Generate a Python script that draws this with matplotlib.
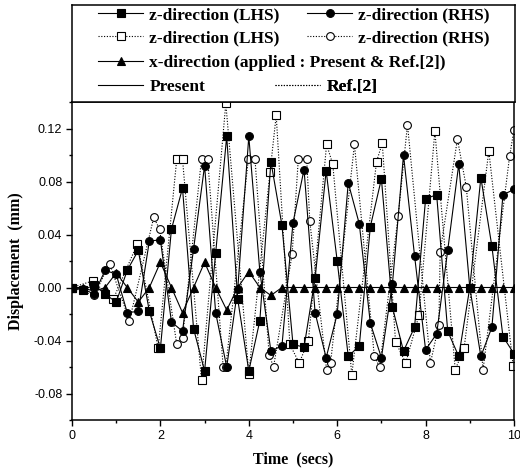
import matplotlib
matplotlib.use("Agg")
import matplotlib.pyplot as plt
import matplotlib.ticker as mticker
from matplotlib.lines import Line2D

# Present results (sampled every 0.25 s)
time_present = [0.0, 0.25, 0.5, 0.75, 1.0, 1.25, 1.5, 1.75, 2.0, 2.25,
                2.5, 2.75, 3.0, 3.25, 3.5, 3.75, 4.0, 4.25, 4.5, 4.75,
                5.0, 5.25, 5.5, 5.75, 6.0, 6.25, 6.5, 6.75, 7.0, 7.25,
                7.5, 7.75, 8.0, 8.25, 8.5, 8.75, 9.0, 9.25, 9.5, 9.75, 10.0]
z_lhs_present = [0.000, -0.002, 0.002, -0.005, -0.011, 0.013, 0.028, -0.018, -0.046, 0.044,
                 0.075, -0.031, -0.063, 0.026, 0.114, -0.009, -0.063, -0.025, 0.095, 0.047,
                 -0.043, -0.045, 0.007, 0.088, 0.020, -0.052, -0.044, 0.046, 0.082, -0.015,
                 -0.048, -0.030, 0.067, 0.070, -0.033, -0.052, 0.000, 0.083, 0.031, -0.037, -0.050]
z_rhs_present = [0.000, -0.001, -0.005, 0.013, 0.010, -0.019, -0.018, 0.035, 0.036, -0.026,
                 -0.033, 0.029, 0.092, -0.019, -0.060, -0.001, 0.114, 0.012, -0.048, -0.044,
                 0.049, 0.089, -0.019, -0.053, -0.020, 0.079, 0.048, -0.027, -0.053, 0.003,
                 0.100, 0.024, -0.047, -0.035, 0.028, 0.093, 0.000, -0.052, -0.030, 0.070, 0.074]
x_applied = [0.000, 0.000, -0.003, 0.000, 0.011, 0.000, -0.011, 0.000, 0.019, 0.000,
             -0.019, 0.000, 0.019, 0.000, -0.017, 0.000, 0.012, 0.000, -0.006, 0.000,
             0.000, 0.000, 0.000, 0.000, 0.000, 0.000, 0.000, 0.000, 0.000, 0.000,
             0.000, 0.000, 0.000, 0.000, 0.000, 0.000, 0.000, 0.000, 0.000, 0.000, 0.000]

# Ref.[2] results
time_ref_lhs = [0.0, 0.47, 0.93, 1.48, 1.95, 2.37, 2.5, 2.93, 3.48, 4.0,
                4.48, 4.62, 4.93, 5.14, 5.35, 5.76, 5.9, 6.33, 6.89, 7.02,
                7.32, 7.55, 7.85, 8.21, 8.67, 8.87, 9.43, 9.98]
z_lhs_ref = [0.000, 0.005, -0.009, 0.033, -0.046, 0.097, 0.097, -0.070, 0.139, -0.065,
             0.087, 0.130, -0.043, -0.057, -0.040, 0.108, 0.093, -0.066, 0.095, 0.109,
             -0.041, -0.057, -0.021, 0.118, -0.062, -0.046, 0.103, -0.059]
time_ref_rhs = [0.0, 0.5, 0.85, 1.3, 1.85, 1.98, 2.37, 2.5, 2.93, 3.07,
                3.42, 3.48, 3.99, 4.14, 4.46, 4.56, 4.98, 5.12, 5.31, 5.38,
                5.76, 5.85, 6.39, 6.84, 6.96, 7.38, 7.59, 8.11, 8.3, 8.33,
                8.72, 8.92, 9.3, 9.9, 10.0]
z_rhs_ref = [0.000, -0.006, 0.018, -0.025, 0.053, 0.044, -0.043, -0.038, 0.097, 0.097,
             -0.060, -0.060, 0.097, 0.097, -0.051, -0.060, 0.025, 0.097, 0.097, 0.050,
             -0.062, -0.057, 0.108, -0.052, -0.060, 0.054, 0.123, -0.057, -0.028, 0.027,
             0.112, 0.076, -0.062, 0.099, 0.119]

SERIF = ["Liberation Serif", "DejaVu Serif"]
SANS = ["Liberation Sans", "DejaVu Sans"]

solid = dict(color="black", lw=0.8, ls="-")
dotted = dict(color="black", lw=0.8, ls=(0, (1, 1.5)))
filled = dict(mfc="black", mec="black", mew=0.8)
hollow = dict(mfc="white", mec="black", mew=0.8)

fig = plt.figure(figsize=(5.2, 4.74), dpi=100)
ax = fig.add_axes([72 / 520, 1 - 420 / 474, 442 / 520, 318 / 474])

ax.plot(time_ref_lhs, z_lhs_ref, marker="s", ms=5.2, **hollow, **dotted, zorder=2)
ax.plot(time_ref_rhs, z_rhs_ref, marker="o", ms=5.6, **hollow, **dotted, zorder=2)
ax.plot(time_present, x_applied, marker="^", ms=6, **filled, **solid, zorder=3)
ax.plot(time_present, z_lhs_present, marker="s", ms=5.2, **filled, **solid, zorder=3)
ax.plot(time_present, z_rhs_present, marker="o", ms=5.6, **filled, **solid, zorder=3)

ax.set_xlim(0, 10)
ax.set_ylim(-0.10, 0.14)
ax.xaxis.set_major_locator(mticker.MultipleLocator(2))
ax.xaxis.set_minor_locator(mticker.MultipleLocator(1))
ax.yaxis.set_major_locator(mticker.FixedLocator([-0.08, -0.04, 0.0, 0.04, 0.08, 0.12]))
ax.yaxis.set_minor_locator(mticker.FixedLocator([-0.10, -0.06, -0.02, 0.02, 0.06, 0.10, 0.14]))
ax.xaxis.set_major_formatter(mticker.FuncFormatter(lambda v, _: f"{v:.0f}"))
ax.yaxis.set_major_formatter(mticker.FuncFormatter(lambda v, _: f"{v:.2f}".replace("-0.00", "0.00")))
ax.tick_params(which="both", direction="out", top=False, right=False, width=1.0,
               labelsize=9, pad=3)
ax.tick_params(which="major", length=4)
ax.tick_params(which="minor", length=2.5)
for lab in ax.get_xticklabels() + ax.get_yticklabels():
    lab.set_family(SANS)
for sp in ax.spines.values():
    sp.set_linewidth(1.1)

ax.set_xlabel("Time  (secs)", family=SERIF, fontweight="bold", fontsize=11.5, labelpad=7)
ax.set_ylabel("Displacement  (mm)", family=SERIF, fontweight="bold", fontsize=11.5, labelpad=7)

# legend box above the plot
lax = fig.add_axes([72 / 520, 1 - 102 / 474, 443 / 520, 97 / 474])
lax.set_xticks([])
lax.set_yticks([])
for sp in lax.spines.values():
    sp.set_linewidth(1.1)

h_lhs = Line2D([], [], marker="s", ms=5.2, **filled, **solid)
h_rhs = Line2D([], [], marker="o", ms=5.6, **filled, **solid)
h_lhs_ref = Line2D([], [], marker="s", ms=5.2, **hollow, **dotted)
h_rhs_ref = Line2D([], [], marker="o", ms=5.6, **hollow, **dotted)
h_x = Line2D([], [], marker="^", ms=6, **filled, **solid)
h_present = Line2D([], [], **solid)
h_ref = Line2D([], [], **dotted)

font = dict(family=SERIF, weight="bold", size=12.5)
entries = [
    (h_lhs, "z-direction (LHS)", 98, 15),
    (h_rhs, "z-direction (RHS)", 307, 15),
    (h_lhs_ref, "z-direction (LHS)", 98, 38),
    (h_rhs_ref, "z-direction (RHS)", 307, 38),
    (h_x, "x-direction (applied : Present & Ref.[2])", 98, 63),
    (h_present, "Present", 98, 87),
    (h_ref, "Ref.[2]", 275, 87),
]
for handle, label, px, py in entries:
    leg = lax.legend([handle], [label], loc="center left",
                     bbox_to_anchor=((px - 72) / 443, (102 - py) / 97),
                     frameon=False, borderpad=0, borderaxespad=0,
                     handlelength=2.6, handletextpad=0.35, prop=font)
    lax.add_artist(leg)

fig.savefig("out.png", dpi=100)
